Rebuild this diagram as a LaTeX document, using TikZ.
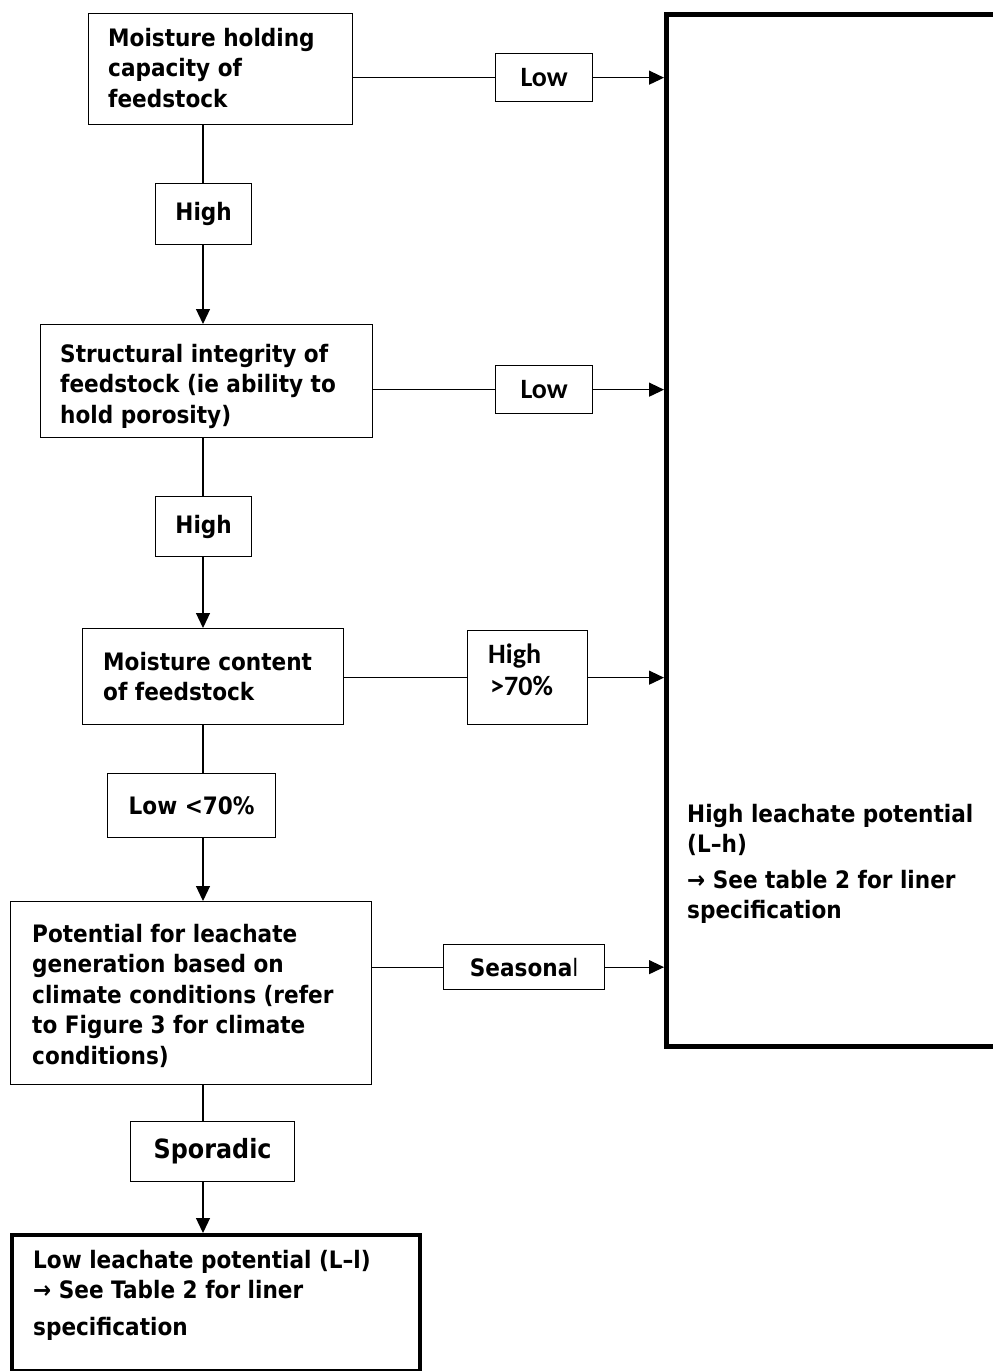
\documentclass[tikz,border=0pt]{standalone}
\usepackage{fontspec}
\newfontfamily\tah{DejaVu Sans}[FakeStretch=0.9]
\newfontfamily\calb{Carlito}
\usetikzlibrary{arrows.meta}
\begin{document}
\begin{tikzpicture}[x=1pt,y=1pt,
  box/.style={draw, line width=1.3pt, inner sep=0pt, anchor=north west},
  thick box/.style={box, line width=#1},
  tahf/.style={font=\tah\bfseries\fontsize{24}{30.5}\selectfont},
  calf/.style={font=\calb\bfseries\fontsize{28}{32}\selectfont},
  txt/.style={tahf, anchor=base west, inner sep=0pt},
  ln/.style={line width=1.2pt},
  arr/.style={ln, -{Triangle[length=15pt,width=14pt]}}]
\useasboundingbox[fill=white] (0,0) rectangle (993,-1371);
% boxes
\node[box, minimum width=264pt, minimum height=111pt] (b1) at (88,-13) {};
\node[box, calf, minimum width=97pt, minimum height=48pt] (low1) at (495,-53) {Low};
\node[thick box=5pt, minimum width=340pt, minimum height=1032pt] (big) at (664,-12) {};
\node[box, tahf, minimum width=96pt, minimum height=61pt] (hi1) at (155,-183) {High};
\node[box, minimum width=332pt, minimum height=113pt] (b2) at (40,-324) {};
\node[box, calf, minimum width=97pt, minimum height=48pt] (low2) at (495,-365) {Low};
\node[box, tahf, minimum width=96pt, minimum height=60pt] (hi2) at (155,-496) {High};
\node[box, minimum width=261pt, minimum height=96pt] (b3) at (82,-628) {};
\node[box, minimum width=120pt, minimum height=94pt] (hi70) at (467,-630) {};
\node[box, tahf, minimum width=168pt, minimum height=64pt] (lo70) at (107,-773) {Low <70\%};
\node[box, minimum width=361pt, minimum height=183pt] (b4) at (10,-901) {};
\node[box, tahf, minimum width=161pt, minimum height=45pt] (seas) at (443,-944) {Seasona{\mdseries l}};
\node[box, font=\tah\bfseries\fontsize{26.5}{30}\selectfont, minimum width=164pt, minimum height=60pt] (spor) at (130,-1121) {Sporadic};
\node[thick box=4pt, minimum width=408pt, minimum height=136pt] (b5) at (10,-1233) {};
% texts
\node[txt] (t1) at (108,-46) {\vtop{\hbox{Moisture holding}\hbox{capacity of}\hbox{feedstock}}};
\node[txt] (t2) at (60,-362) {\vtop{\hbox{Structural integrity of}\hbox{feedstock (ie ability to}\hbox{hold porosity)}}};
\node[txt] (t3) at (103,-670) {\vtop{\hbox{Moisture content}\hbox{of feedstock}}};
\node[txt] (t4) at (32,-942) {\vtop{\hbox{Potential for leachate}\hbox{generation based on}\hbox{climate conditions (refer}\hbox{to Figure 3 for climate}\hbox{conditions)}}};
\node[txt] (t5) at (33,-1268) {\vtop{\hbox{Low leachate potential (L–l)}\hbox{→ See Table 2 for liner}\vskip6pt\hbox{specification}}};
\node[txt] (t6) at (687,-822) {\vtop{\hbox{High leachate potential}\hbox{(L–h)}\vskip5pt\hbox{→ See table 2 for liner}\hbox{specification}}};
\node[calf, anchor=base west, inner sep=0pt] (t7) at (488,-663) {\vtop{\hbox{High}\hbox{\kern2pt>70\%}}};
% connectors
\draw[ln] (b1.east |- low1.center) -- (low1.west);
\draw[arr] (low1.east) -- (low1.east -| big.west);
\draw[ln] (b2.east |- low2.center) -- (low2.west);
\draw[arr] (low2.east) -- (low2.east -| big.west);
\draw[ln] (b3.east |- hi70.center) -- (hi70.west);
\draw[arr] (hi70.east) -- (hi70.east -| big.west);
\draw[ln] (b4.east |- seas.center) -- (seas.west);
\draw[arr] (seas.east) -- (seas.east -| big.west);
\coordinate (spine) at (203,0);
\draw[ln] (spine |- b1.south) -- (spine |- hi1.north);
\draw[arr] (spine |- hi1.south) -- (spine |- b2.north);
\draw[ln] (spine |- b2.south) -- (spine |- hi2.north);
\draw[arr] (spine |- hi2.south) -- (spine |- b3.north);
\draw[ln] (spine |- b3.south) -- (spine |- lo70.north);
\draw[arr] (spine |- lo70.south) -- (spine |- b4.north);
\draw[ln] (spine |- b4.south) -- (spine |- spor.north);
\draw[arr] (spine |- spor.south) -- (spine |- b5.north);
\end{tikzpicture}
\end{document}
